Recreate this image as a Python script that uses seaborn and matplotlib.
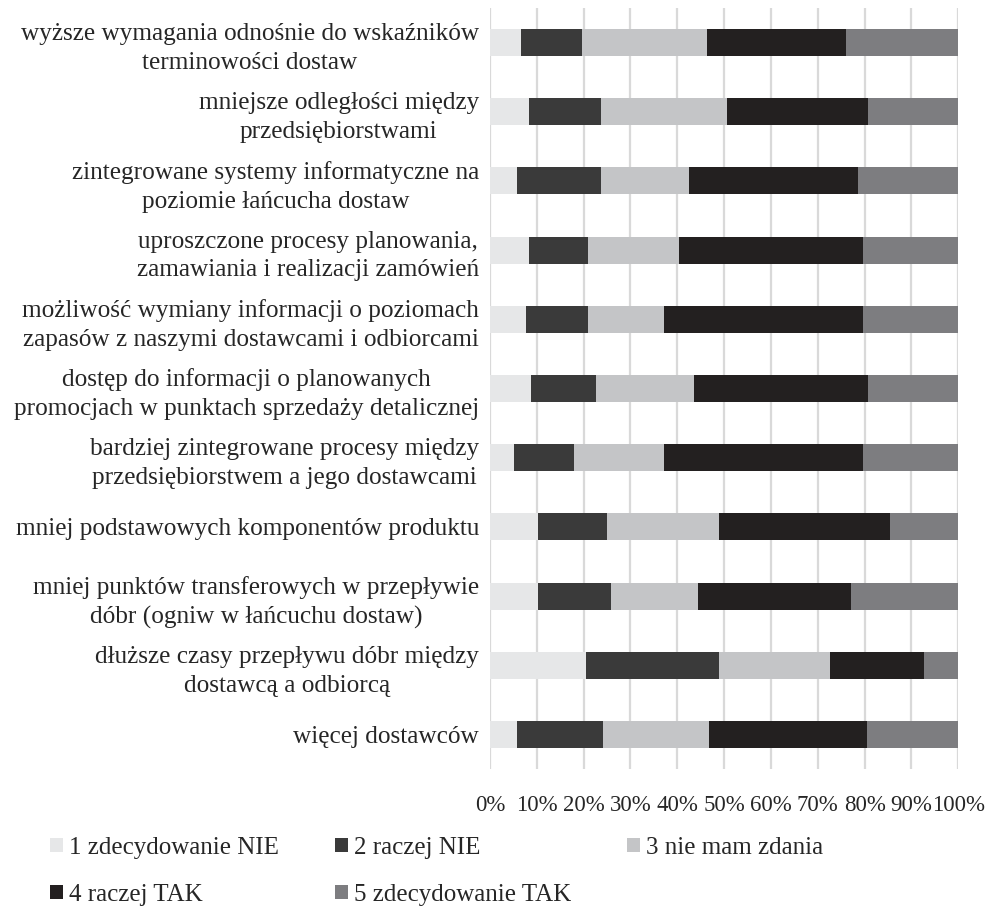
import numpy as np
import pandas as pd
import matplotlib.pyplot as plt
import seaborn as sns
from matplotlib.patches import Patch

categories = [
    "wyższe wymagania odnośnie do wskaźników\nterminowości dostaw",
    "mniejsze odległości między\nprzedsiębiorstwami",
    "zintegrowane systemy informatyczne na\npoziomie łańcucha dostaw",
    "uproszczone procesy planowania,\nzamawiania i realizacji zamówień",
    "możliwość wymiany informacji o poziomach\nzapasów z naszymi dostawcami i odbiorcami",
    "dostęp do informacji o planowanych\npromocjach w punktach sprzedaży detalicznej",
    "bardziej zintegrowane procesy między\nprzedsiębiorstwem a jego dostawcami",
    "mniej podstawowych komponentów produktu",
    "mniej punktów transferowych w przepływie\ndóbr (ogniw w łańcuchu dostaw)",
    "dłuższe czasy przepływu dóbr między\ndostawcą a odbiorcą",
    "więcej dostawców",
]

series_names = ["1 zdecydowanie NIE", "2 raczej NIE", "3 nie mam zdania",
                "4 raczej TAK", "5 zdecydowanie TAK"]

s1 = [6.7, 8.3, 5.7, 8.3, 7.7, 8.7, 5.1, 10.2, 10.2, 20.4, 5.7]
s2 = [12.9, 15.4, 18.0, 12.7, 13.3, 13.9, 12.9, 14.7, 15.6, 28.5, 18.4]
s3 = [26.7, 27.0, 18.9, 19.4, 16.2, 20.9, 19.2, 24.0, 18.7, 23.7, 22.7]
s4 = [29.7, 30.0, 36.0, 39.3, 42.5, 37.2, 42.5, 36.5, 32.6, 20.1, 33.7]
s5 = [24.0, 19.3, 21.4, 20.3, 20.3, 19.3, 20.3, 14.6, 22.9, 7.3, 19.5]

colors = ["#E6E7E8", "#3A3A3A", "#C4C5C7", "#231F20", "#7D7D80"]

sns.set_style("white")
plt.rcParams['font.family'] = ['Liberation Serif', 'DejaVu Serif']

df = pd.DataFrame({"cat": categories, "s1": s1, "s2": s2, "s3": s3, "s4": s4, "s5": s5})
cols = ["s1", "s2", "s3", "s4", "s5"]
cum = df[cols].cumsum(axis=1)

fig = plt.figure(figsize=(9.92, 9.1), dpi=100)
ax = fig.add_axes([490 / 992, 1 - 769 / 910, 468.3 / 992, 761 / 910])

# draw cumulative bars from the longest to the shortest
for i in range(4, -1, -1):
    sns.barplot(x=cum[cols[i]], y=df["cat"], color=colors[i], orient="h",
                width=0.39, ax=ax, linewidth=0, zorder=2)

ax.set_xlim(0, 100)
ax.set_xticks(np.arange(0, 101, 10))
ax.set_xticklabels([f"{v}%" for v in range(0, 101, 10)], fontsize=16.5)
ax.grid(axis="x", color="#D9D9D9", linewidth=1.6, zorder=0)
ax.set_axisbelow(True)
for sp in ax.spines.values():
    sp.set_visible(False)
ax.set_xlabel("")
ax.set_ylabel("")
ax.tick_params(axis="x", length=0, pad=19)
ax.tick_params(axis="y", length=0, pad=8)
for lab in ax.get_yticklabels():
    lab.set_fontsize(18.2)
    lab.set_multialignment("center")
    lab.set_linespacing(1.4)

handles = [Patch(facecolor=c, edgecolor="none") for c in colors]
order = [0, 3, 1, 4, 2]
fig.legend([handles[i] for i in order], [series_names[i] for i in order],
           ncol=3, loc="upper left", bbox_to_anchor=(0.028, 0.1054),
           frameon=False, fontsize=18, handlelength=0.5, handleheight=0.5,
           handletextpad=0.25, columnspacing=2.25, labelspacing=1.02)

fig.savefig("out.png", dpi=100)
